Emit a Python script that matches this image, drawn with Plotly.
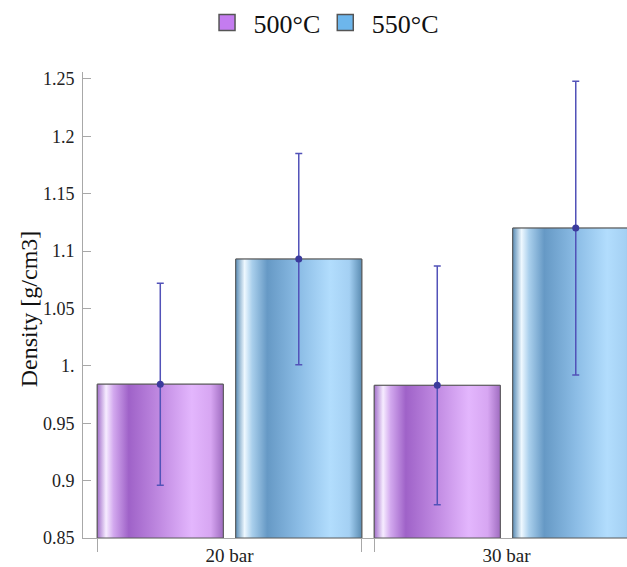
import plotly.graph_objects as go

# ---- data ----
categories = ["20 bar", "30 bar"]
series_names = ["500°C", "550°C"]
density_500 = [0.984, 0.983]
density_550 = [1.093, 1.120]
err_500 = [0.088, 0.104]
err_550 = [0.092, 0.128]
ytick_vals = [0.85, 0.9, 0.95, 1.0, 1.05, 1.1, 1.15, 1.2, 1.25]
ytick_text = ["0.85", "0.9", "0.95", "1.", "1.05", "1.1", "1.15", "1.2", "1.25"]
y_title = "Density [g/cm3]"

# ---- style ----
FONT = "Liberation Serif"
legend_colors = ["#c47cf0", "#6db6ec"]
base_colors = ["#c58ae6", "#8ec3ea"]
gradients = [
    [[0.0, "#a26fca"], [0.07, "#f6ecff"], [0.13, "#d2a8ee"], [0.25, "#9f62c8"],
     [0.5, "#c18be2"], [0.75, "#e3b6fd"], [0.9, "#d7a6f2"], [1.0, "#9f6cc0"]],
    [[0.0, "#5a8db6"], [0.07, "#eef8ff"], [0.13, "#a9cfec"], [0.25, "#6699c5"],
     [0.5, "#8bbce5"], [0.75, "#b2ddfd"], [0.9, "#a4d0f3"], [1.0, "#5b8cb2"]],
]
ERR_COLOR = "#5252b8"
DOT_COLOR = "#3b3b9c"
EDGE = "#5a5a5a"

bar_pitch = 0.5      # distance between bar centres inside a group (category units)
bar_width = 0.455
y_base = 0.85

values = [density_500, density_550]
errors = [err_500, err_550]

fig = go.Figure()

for j, name in enumerate(series_names):
    xs = [i + (j - 0.5) * bar_pitch for i in range(len(categories))]
    fig.add_trace(go.Bar(
        x=xs, y=values[j], width=bar_width, name=name,
        marker=dict(color=base_colors[j], line=dict(color=EDGE, width=1)),
        showlegend=False,
    ))

# gradient shading over each bar
for j in range(len(series_names)):
    for i in range(len(categories)):
        c = i + (j - 0.5) * bar_pitch
        l, r = c - bar_width / 2, c + bar_width / 2
        v = values[j][i]
        fig.add_trace(go.Scatter(
            x=[l, l, r, r, l], y=[y_base, v, v, y_base, y_base],
            mode="lines", fill="toself",
            fillgradient=dict(type="horizontal", colorscale=gradients[j]),
            line=dict(color=EDGE, width=1),
            showlegend=False, hoverinfo="skip",
        ))

# error bars with dots
for j in range(len(series_names)):
    xs = [i + (j - 0.5) * bar_pitch for i in range(len(categories))]
    fig.add_trace(go.Scatter(
        x=xs, y=values[j], mode="markers",
        marker=dict(color=DOT_COLOR, size=7),
        error_y=dict(type="data", array=errors[j], color=ERR_COLOR,
                     thickness=1.5, width=3.5),
        showlegend=False, cliponaxis=False,
    ))

# legend entries
for j, name in enumerate(series_names):
    fig.add_trace(go.Scatter(
        x=[None], y=[None], mode="markers", name=" " + name,
        marker=dict(symbol="square", size=17, color=legend_colors[j],
                    line=dict(color="#555555", width=1.5)),
    ))

group_edges = []
for i in range(len(categories)):
    group_edges += [i - bar_pitch / 2 - bar_width / 2, i + bar_pitch / 2 + bar_width / 2]

xrange = [-0.529, 1.435]

fig.update_layout(
    width=627, height=567,
    margin=dict(l=83, r=0, t=72, b=29, autoexpand=False),
    paper_bgcolor="white", plot_bgcolor="white",
    font=dict(family=FONT, color="#222222"),
    barmode="overlay",
    showlegend=True,
    legend=dict(orientation="h", x=0.228, xanchor="left",
                yref="container", y=0.96, yanchor="middle",
                font=dict(size=26, family=FONT, color="#111111"),
                itemsizing="trace"),
    xaxis=dict(range=xrange, tickvals=list(range(len(categories))), ticktext=categories,
               ticks="", showgrid=False, zeroline=False, automargin=False,
               showline=True, linecolor="#a8a8a8", linewidth=1,
               tickfont=dict(size=19, family=FONT, color="#222222"),
               ticklabelstandoff=0),
    xaxis2=dict(range=xrange, overlaying="x", anchor="y", side="bottom",
                tickvals=group_edges, showticklabels=False, automargin=False,
                ticks="outside", ticklen=13, tickcolor="#a8a8a8", tickwidth=1,
                showgrid=False, zeroline=False, showline=False),
    yaxis=dict(range=[0.85, 1.256], tickvals=ytick_vals, ticktext=ytick_text,
               ticks="inside", ticklen=8, tickcolor="#a8a8a8", tickwidth=1,
               showgrid=False, zeroline=False, automargin=False,
               showline=True, linecolor="#a8a8a8", linewidth=1,
               ticklabelstandoff=4,
               tickfont=dict(size=18, family=FONT, color="#222222")),
    annotations=[dict(text=y_title, textangle=-90, xref="paper", yref="paper",
                      x=-0.1, y=0.492, xanchor="center", yanchor="middle",
                      showarrow=False, font=dict(size=24, family=FONT, color="#111111"))],
)

# dummy trace to activate xaxis2 ticks
fig.add_trace(go.Scatter(x=[None], y=[None], xaxis="x2", showlegend=False, hoverinfo="skip"))

fig.write_html("out.html")
